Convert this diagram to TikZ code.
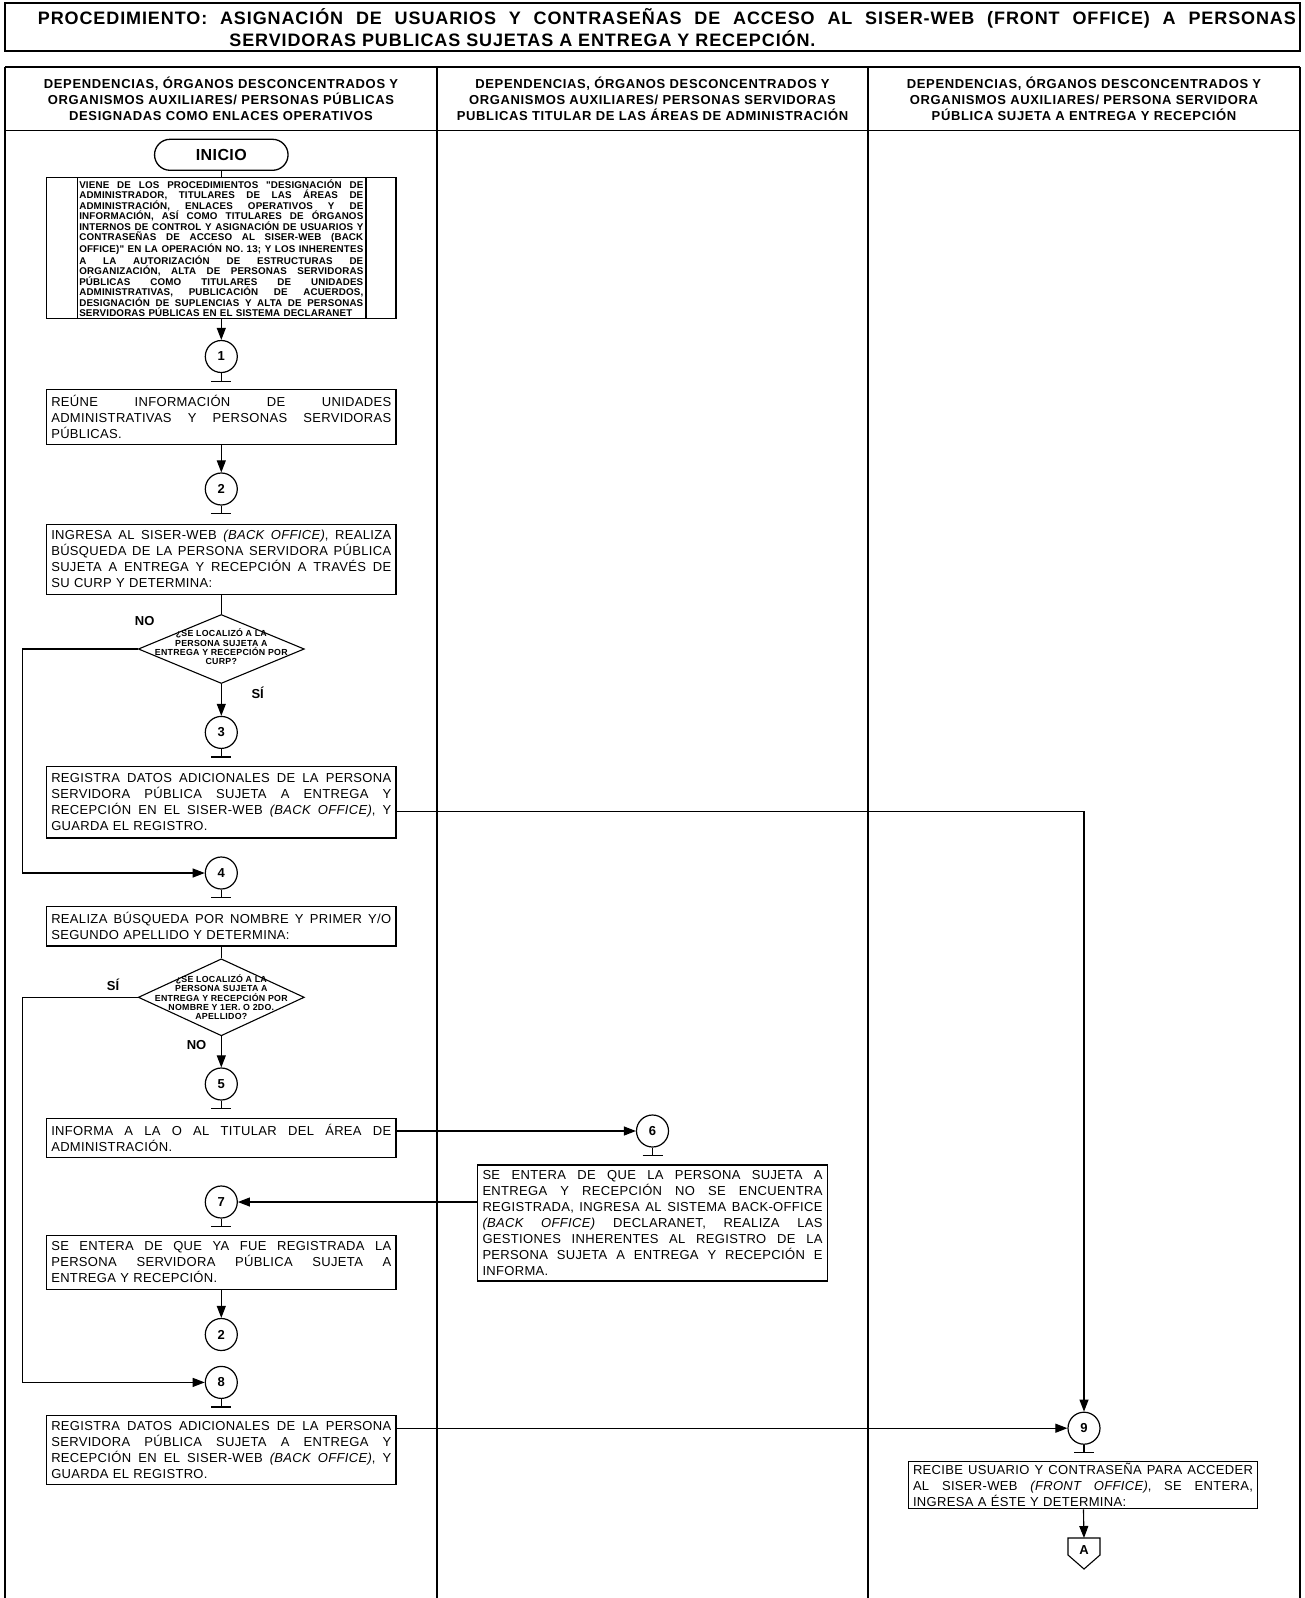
\documentclass[tikz,border=0pt]{standalone}
\usepackage{fontspec}
\setmainfont{Liberation Sans}
\newfontfamily\tfont[LetterSpace=5]{Liberation Sans}
\newfontfamily\hfont[LetterSpace=5]{Liberation Sans}
\newfontfamily\bfont[LetterSpace=2.5]{Liberation Sans}
\newfontfamily\ofont[LetterSpace=1.5]{Liberation Sans}
\newfontfamily\dfont[LetterSpace=3]{Liberation Sans}
\usetikzlibrary{shapes.geometric,arrows.meta}
\def\jw{340pt}
\newcommand\J[1]{\makebox[\jw][s]{\spaceskip=0pt\xspaceskip=0pt #1}}
\begin{document}
\begin{tikzpicture}[x=1pt,y=-1pt,
  lane/.style={line width=1.7pt},
  line/.style={line width=1.1pt},
  arr/.style={line width=1.1pt,-{Triangle[length=12pt,width=9pt]}},
  box/.style={draw,line width=1.1pt,text width=340pt,inner xsep=4.7pt,inner ysep=2pt,anchor=north,align=left,font=\bfont\fontsize{13}{16}\selectfont},
  circ/.style={draw,circle,line width=1.2pt,minimum size=32pt,inner sep=0pt,font=\bfseries\fontsize{13}{13}\selectfont},
  dia/.style={draw,diamond,line width=1.1pt,inner sep=0pt,minimum width=166pt},
  diatext/.style={align=center,inner sep=0pt,font=\dfont\bfseries\fontsize{8.8}{9.3}\selectfont},
  lbl/.style={inner sep=0pt,font=\bfseries\fontsize{13}{13}\selectfont},
  head/.style={align=center,inner sep=0pt,font=\hfont\bfseries\fontsize{13}{15.8}\selectfont},
  ttl/.style={anchor=west,inner sep=0pt,font=\tfont\bfseries\fontsize{18}{20}\selectfont}]
\useasboundingbox (0,0) rectangle (1305,1598);
% title
\draw[line width=2pt] (5,3) rectangle (1300,51);
\node[ttl] (t1) at (37.7,18.3) {\makebox[1258pt][s]{PROCEDIMIENTO:  ASIGNACIÓN DE USUARIOS Y CONTRASEÑAS DE ACCESO AL SISER-WEB (FRONT OFFICE) A PERSONAS}};
\node[ttl] (t2) at (229.2,38.7) {SERVIDORAS PUBLICAS SUJETAS A ENTREGA Y RECEPCIÓN.};
% lanes
\draw[lane] (5,67) -- (1300,67);
\draw[lane] (5,130.4) -- (1300,130.4);
\draw[lane] (5,67) -- (5,1598);
\draw[lane] (437,67) -- (437,1598);
\draw[lane] (868,67) -- (868,1598);
\draw[lane] (1300,67) -- (1300,1598);
\node[head] (h1) at (221,98.7) {DEPENDENCIAS, ÓRGANOS DESCONCENTRADOS Y\\ORGANISMOS AUXILIARES/ PERSONAS PÚBLICAS\\DESIGNADAS COMO ENLACES OPERATIVOS};
\node[head] (h2) at (652.5,98.7) {DEPENDENCIAS, ÓRGANOS DESCONCENTRADOS Y\\ORGANISMOS AUXILIARES/ PERSONAS SERVIDORAS\\PUBLICAS TITULAR DE LAS ÁREAS DE ADMINISTRACIÓN};
\node[head] (h3) at (1084,98.7) {DEPENDENCIAS, ÓRGANOS DESCONCENTRADOS Y\\ORGANISMOS AUXILIARES/ PERSONA SERVIDORA\\PÚBLICA SUJETA A ENTREGA Y RECEPCIÓN};
% nodes
\node[draw,line width=1.3pt,rounded corners=15.5pt,minimum width=133.5pt,minimum height=31pt,font=\bfont\bfseries\fontsize{16}{16}\selectfont] (ini) at (221.3,154.8) {INICIO};
\node[draw,line width=1.1pt,anchor=north,minimum width=349.4pt,minimum height=140.5pt,text width=284pt,inner xsep=0pt,inner ysep=0pt,align=left,font=\ofont\bfseries\fontsize{9.8}{10.5}\selectfont] (b0) at (221.3,177.3) {\def\jw{284pt}%
\J{VIENE DE LOS PROCEDIMIENTOS "DESIGNACIÓN DE}\\
\J{ADMINISTRADOR, TITULARES DE LAS ÁREAS DE}\\
\J{ADMINISTRACIÓN, ENLACES OPERATIVOS Y DE}\\
\J{INFORMACIÓN, ASÍ COMO TITULARES DE ÓRGANOS}\\
\J{INTERNOS DE CONTROL Y ASIGNACIÓN DE USUARIOS Y}\\
\J{CONTRASEÑAS DE ACCESO AL SISER-WEB (BACK}\\
\J{OFFICE)" EN LA OPERACIÓN NO. 13; Y LOS INHERENTES}\\
\J{A LA AUTORIZACIÓN DE ESTRUCTURAS DE}\\
\J{ORGANIZACIÓN, ALTA DE PERSONAS SERVIDORAS}\\
\J{PÚBLICAS COMO TITULARES DE UNIDADES}\\
\J{ADMINISTRATIVAS, PUBLICACIÓN DE ACUERDOS,}\\
\J{DESIGNACIÓN DE SUPLENCIAS Y ALTA DE PERSONAS}\\
SERVIDORAS PÚBLICAS EN EL SISTEMA DECLARANET};
\draw[line] ([xshift=31.5pt]b0.north west) -- ([xshift=31.5pt]b0.south west);
\draw[line] ([xshift=-30.6pt]b0.north east) -- ([xshift=-30.6pt]b0.south east);

\node[circ] (c1) at (221.3,356.5) {1};
\node[box,minimum height=55pt] (b1) at (221.3,389.1) {\J{REÚNE INFORMACIÓN DE UNIDADES}\\\J{ADMINISTRATIVAS Y PERSONAS SERVIDORAS}\\PÚBLICAS.};
\node[circ] (c2) at (221.3,489) {2};
\node[box,minimum height=70.3pt] (b2) at (221.3,523.6) {\J{INGRESA AL SISER-WEB \textit{(BACK OFFICE)}, REALIZA}\\\J{BÚSQUEDA DE LA PERSONA SERVIDORA PÚBLICA}\\\J{SUJETA A ENTREGA Y RECEPCIÓN A TRAVÉS DE}\\SU CURP Y DETERMINA:};
\node[dia,minimum height=69pt] (d1) at (221.3,649) {};
\node[diatext] (d1t) at (221.3,647) {¿SE LOCALIZÓ A LA\\PERSONA SUJETA A\\ENTREGA Y RECEPCIÓN POR\\CURP?};
\node[lbl] (no1) at (144.7,621.4) {NO};
\node[lbl] (si1) at (257.7,692.7) {SÍ};
\node[circ] (c3) at (221.3,732.4) {3};
\node[box,minimum height=71.4pt] (b3) at (221.3,766) {\J{REGISTRA DATOS ADICIONALES DE LA PERSONA}\\\J{SERVIDORA PÚBLICA SUJETA A ENTREGA Y}\\\J{RECEPCIÓN EN EL SISER-WEB \textit{(BACK OFFICE)}, Y}\\GUARDA EL REGISTRO.};
\node[circ] (c4) at (221.3,873) {4};
\node[box,minimum height=39.8pt] (b4) at (221.3,905.6) {\J{REALIZA BÚSQUEDA POR NOMBRE Y PRIMER Y/O}\\SEGUNDO APELLIDO Y DETERMINA:};
\node[dia,minimum height=77pt] (d2) at (221.3,997.3) {};
\node[diatext] (d2t) at (221.3,997.3) {¿SE LOCALIZÓ A LA\\PERSONA SUJETA A\\ENTREGA Y RECEPCIÓN POR\\NOMBRE Y 1ER. O 2DO.\\APELLIDO?};
\node[lbl] (si2) at (113,985) {SÍ};
\node[lbl] (no2) at (196.6,1045.2) {NO};
\node[circ] (c5) at (221.3,1084) {5};
\node[box,minimum height=39.7pt] (b5) at (221.3,1117.5) {\J{INFORMA A LA O AL TITULAR DEL ÁREA DE}\\ADMINISTRACIÓN.};
\node[circ] (c6) at (652.5,1131) {6};
\node[box,minimum height=116pt] (b6) at (652.5,1164.4) {\J{SE ENTERA DE QUE LA PERSONA SUJETA A}\\\J{ENTREGA Y RECEPCIÓN NO SE ENCUENTRA}\\\J{REGISTRADA, INGRESA AL SISTEMA BACK-OFFICE}\\\J{\textit{(BACK OFFICE)} DECLARANET, REALIZA LAS}\\\J{GESTIONES INHERENTES AL REGISTRO DE LA}\\\J{PERSONA SUJETA A ENTREGA Y RECEPCIÓN E}\\INFORMA.};
\node[circ] (c7) at (221.3,1202) {7};
\node[box,minimum height=54pt] (b7) at (221.3,1234.7) {\J{SE ENTERA DE QUE YA FUE REGISTRADA LA}\\\J{PERSONA SERVIDORA PÚBLICA SUJETA A}\\ENTREGA Y RECEPCIÓN.};
\node[circ] (c2b) at (221.3,1334.5) {2};
\node[circ] (c8) at (221.3,1382.4) {8};
\node[box,minimum height=69.2pt] (b8) at (221.3,1415) {\J{REGISTRA DATOS ADICIONALES DE LA PERSONA}\\\J{SERVIDORA PÚBLICA SUJETA A ENTREGA Y}\\\J{RECEPCIÓN EN EL SISER-WEB \textit{(BACK OFFICE)}, Y}\\GUARDA EL REGISTRO.};
\node[circ] (c9) at (1084,1428.2) {9};
\node[box,minimum height=47pt] (b9) at (1083,1460.8) {\J{RECIBE USUARIO Y CONTRASEÑA PARA ACCEDER}\\\J{AL SISER-WEB \textit{(FRONT OFFICE)}, SE ENTERA,}\\INGRESA A ÉSTE Y DETERMINA:};
\node[inner sep=0pt,font=\bfseries\fontsize{13}{13}\selectfont] (A) at (1084,1550) {A};
\draw[line] ([shift={(-16,-12)}]A.center) -- ([shift={(16,-12)}]A.center) -- ([shift={(16,5)}]A.center) -- ([shift={(0,19)}]A.center) -- ([shift={(-16,5)}]A.center) -- cycle;
\coordinate (Atop) at ([shift={(0,-12)}]A.center);
\coordinate (lx1) at (22.4,649);
\coordinate (lx2) at (22.4,997.3);
% ticks
\foreach \n in {c1,c2,c3,c4,c5,c6,c7,c8,c9}
  \draw[line] (\n.south) -- ++(0,8) ++(-10,0) -- ++(20,0);
% connectors
\draw[line] (ini) -- (b0);
\draw[arr] (b0) -- (c1);
\draw[arr] (b1) -- (c2);
\draw[line] (b2) -- (d1);
\draw[arr] (d1) -- (c3);
\draw[arr] (d1.west) -- (lx1) |- (c4.west);
\draw[arr] ([yshift=-9.3pt]b3.east) -| (c9.north);
\draw[line] (b4) -- (d2);
\draw[arr] (d2) -- (c5);
\draw[arr] (d2.west) -- (lx2) |- (c8.west);
\draw[arr] (b5.east |- c6) -- (c6.west);
\draw[arr] (b6.west |- c7) -- (c7.east);
\draw[arr] (b7) -- (c2b);
\draw[arr] (b8.east |- c9) -- (c9.west);
\draw[arr] (b9) -- (Atop);
\end{tikzpicture}
\end{document}
